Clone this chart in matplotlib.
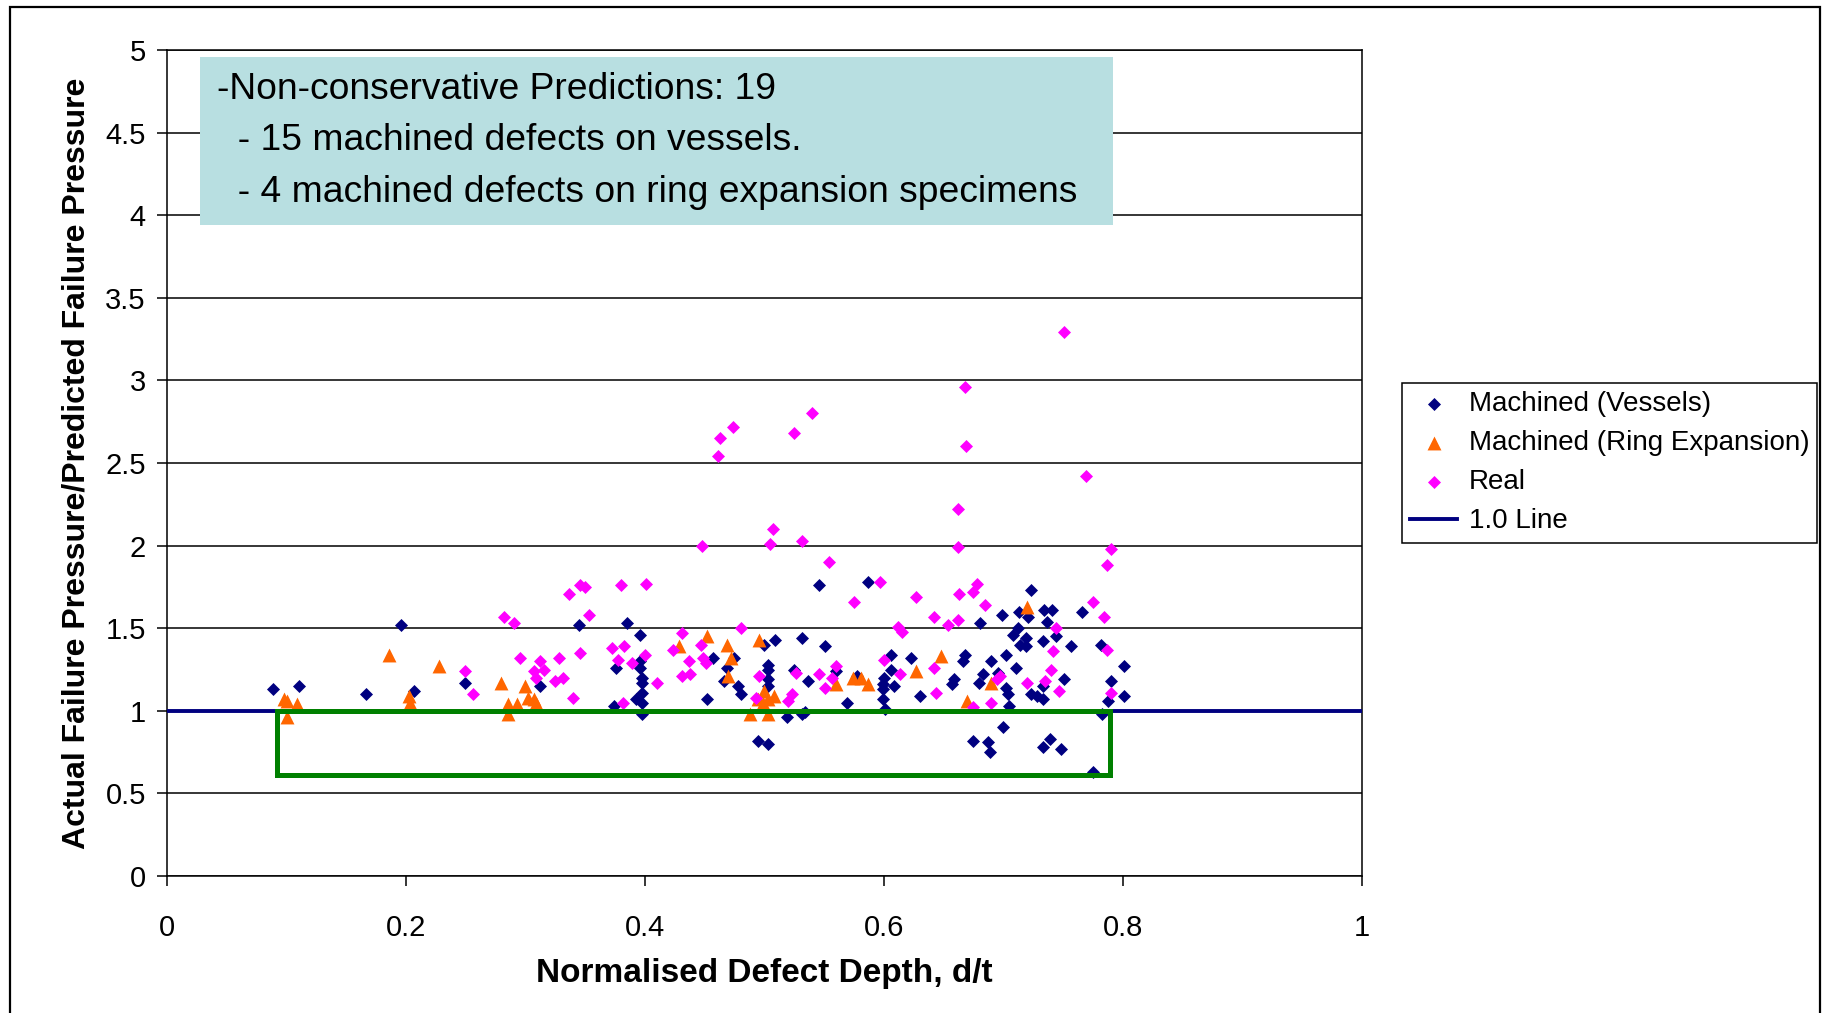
import matplotlib.pyplot as plt
from matplotlib.patches import Rectangle
from matplotlib.ticker import FormatStrFormatter

plt.rcParams['font.family'] = ['Liberation Sans', 'DejaVu Sans']

# Machined defects on vessels
vessels_x = [0.089, 0.111, 0.167, 0.196, 0.207, 0.250, 0.312, 0.345, 0.385, 0.396,
             0.376, 0.396, 0.396, 0.398, 0.398, 0.393, 0.398, 0.398, 0.398, 0.374,
             0.452, 0.546, 0.587, 0.500, 0.509, 0.532, 0.551, 0.457, 0.475, 0.469,
             0.466, 0.478, 0.481, 0.503, 0.503, 0.503, 0.503, 0.525, 0.537, 0.560,
             0.519, 0.532, 0.534, 0.495, 0.503, 0.569, 0.578, 0.599, 0.600, 0.599,
             0.599, 0.601, 0.606, 0.606, 0.609, 0.623, 0.630, 0.723, 0.699, 0.713,
             0.721, 0.734, 0.741, 0.766, 0.737, 0.681, 0.712, 0.708, 0.719, 0.714,
             0.719, 0.733, 0.744, 0.757, 0.782, 0.668, 0.666, 0.702, 0.690, 0.711,
             0.683, 0.680, 0.659, 0.657, 0.696, 0.702, 0.704, 0.705, 0.723, 0.728,
             0.733, 0.733, 0.751, 0.801, 0.790, 0.801, 0.788, 0.783, 0.700, 0.675,
             0.687, 0.689, 0.739, 0.733, 0.748, 0.775]
vessels_y = [1.13, 1.15, 1.10, 1.52, 1.12, 1.17, 1.15, 1.52, 1.53, 1.46,
             1.26, 1.30, 1.26, 1.20, 1.17, 1.07, 1.11, 1.05, 0.98, 1.03,
             1.07, 1.76, 1.78, 1.40, 1.43, 1.44, 1.39, 1.32, 1.32, 1.26,
             1.18, 1.15, 1.10, 1.28, 1.25, 1.19, 1.15, 1.25, 1.18, 1.24,
             0.96, 0.98, 0.99, 0.82, 0.80, 1.05, 1.21, 1.16, 1.20, 1.13,
             1.07, 1.01, 1.34, 1.25, 1.15, 1.32, 1.09, 1.73, 1.58, 1.60,
             1.57, 1.61, 1.61, 1.60, 1.54, 1.53, 1.50, 1.46, 1.44, 1.40,
             1.39, 1.42, 1.45, 1.39, 1.40, 1.34, 1.30, 1.34, 1.30, 1.26,
             1.22, 1.17, 1.19, 1.16, 1.23, 1.14, 1.10, 1.03, 1.10, 1.09,
             1.07, 1.15, 1.19, 1.27, 1.18, 1.09, 1.06, 0.98, 0.90, 0.82,
             0.81, 0.75, 0.83, 0.78, 0.77, 0.63]

# Machined defects on ring expansion specimens
ring_x = [0.098, 0.101, 0.101, 0.109, 0.186, 0.203, 0.204, 0.228, 0.280, 0.286,
          0.286, 0.293, 0.300, 0.302, 0.307, 0.309, 0.429, 0.452, 0.469, 0.472,
          0.470, 0.496, 0.500, 0.508, 0.495, 0.503, 0.499, 0.488, 0.503, 0.560,
          0.574, 0.581, 0.587, 0.627, 0.720, 0.648, 0.690, 0.670]
ring_y = [1.07, 1.06, 0.96, 1.04, 1.34, 1.09, 1.05, 1.27, 1.17, 1.04,
          0.98, 1.04, 1.15, 1.08, 1.07, 1.05, 1.39, 1.45, 1.40, 1.32,
          1.21, 1.43, 1.12, 1.09, 1.07, 1.07, 1.05, 0.98, 0.98, 1.16,
          1.20, 1.20, 1.16, 1.24, 1.63, 1.33, 1.17, 1.06]

# Real defects
real_x = [0.250, 0.256, 0.282, 0.291, 0.337, 0.346, 0.350, 0.380, 0.401, 0.353,
          0.296, 0.312, 0.316, 0.307, 0.309, 0.328, 0.325, 0.332, 0.346, 0.340,
          0.373, 0.383, 0.378, 0.389, 0.400, 0.410, 0.382, 0.431, 0.424, 0.447,
          0.437, 0.431, 0.438, 0.449, 0.451, 0.554, 0.597, 0.575, 0.627, 0.481,
          0.612, 0.615, 0.496, 0.527, 0.546, 0.560, 0.557, 0.551, 0.600, 0.614,
          0.493, 0.523, 0.520, 0.642, 0.787, 0.678, 0.675, 0.663, 0.685, 0.775,
          0.784, 0.642, 0.654, 0.662, 0.744, 0.787, 0.742, 0.740, 0.697, 0.695,
          0.720, 0.735, 0.747, 0.644, 0.790, 0.690, 0.675, 0.474, 0.463, 0.461,
          0.525, 0.540, 0.448, 0.507, 0.505, 0.532, 0.751, 0.668, 0.669, 0.769,
          0.662, 0.662, 0.790]
real_y = [1.24, 1.10, 1.57, 1.53, 1.71, 1.76, 1.75, 1.76, 1.77, 1.58,
          1.32, 1.30, 1.25, 1.24, 1.20, 1.32, 1.18, 1.20, 1.35, 1.08,
          1.38, 1.39, 1.31, 1.29, 1.34, 1.17, 1.05, 1.47, 1.37, 1.40,
          1.30, 1.21, 1.22, 1.32, 1.29, 1.90, 1.78, 1.66, 1.69, 1.50,
          1.51, 1.48, 1.21, 1.23, 1.22, 1.27, 1.20, 1.14, 1.31, 1.22,
          1.08, 1.10, 1.06, 1.26, 1.88, 1.77, 1.72, 1.71, 1.64, 1.66,
          1.57, 1.57, 1.52, 1.55, 1.50, 1.37, 1.36, 1.25, 1.21, 1.19,
          1.17, 1.18, 1.12, 1.11, 1.11, 1.05, 1.02, 2.72, 2.65, 2.54,
          2.68, 2.80, 2.00, 2.10, 2.01, 2.03, 3.29, 2.96, 2.60, 2.42,
          2.22, 1.99, 1.98]

one_line_x = [0, 1]
one_line_y = [1.0, 1.0]

# green box marking the non-conservative region (x0, x1, y0, y1)
box_x = [0.092, 0.789]
box_y = [0.61, 1.0]

note_lines = ['-Non-conservative Predictions: 19',
              '  - 15 machined defects on vessels.',
              '  - 4 machined defects on ring expansion specimens']

fig = plt.figure(figsize=(18.47, 10.13), dpi=100)
ax = fig.add_axes([0.09025, 0.13524, 0.6470, 0.8154])

ax.scatter(vessels_x, vessels_y, marker='D', s=44, color='#000080', linewidths=0,
           label='Machined (Vessels)', zorder=4)
ax.scatter(ring_x, ring_y, marker='^', s=100, color='#FF6600', linewidths=0,
           label='Machined (Ring Expansion)', zorder=4)
ax.scatter(real_x, real_y, marker='D', s=44, color='#FF00FF', linewidths=0,
           label='Real', zorder=4)
ax.plot(one_line_x, one_line_y, color='#000080', lw=2.8, label='1.0 Line', zorder=3)

ax.add_patch(Rectangle((box_x[0], box_y[0]), box_x[1] - box_x[0], box_y[1] - box_y[0],
                       fill=False, edgecolor='#008000', lw=3.6, zorder=5))

ax.set_xlim(0, 1)
ax.set_ylim(0, 5)
ax.set_xticks([0, 0.2, 0.4, 0.6, 0.8, 1])
ax.set_yticks([0, 0.5, 1, 1.5, 2, 2.5, 3, 3.5, 4, 4.5, 5])
ax.xaxis.set_major_formatter(FormatStrFormatter('%g'))
ax.yaxis.set_major_formatter(FormatStrFormatter('%g'))
ax.grid(axis='y', color='black', lw=1.1)
ax.set_axisbelow(True)
for sp in ax.spines.values():
    sp.set_linewidth(1.1)
ax.tick_params(direction='out', length=7, width=1.1, labelsize=21, pad=8)
ax.tick_params(axis='x', pad=20)

ax.set_xlabel('Normalised Defect Depth, d/t', fontsize=24, fontweight='bold', labelpad=12)
ax.set_ylabel('Actual Failure Pressure/Predicted Failure Pressure', fontsize=23,
              fontweight='bold', labelpad=10)

# note box
ax.add_patch(Rectangle((0.028, 3.94), 0.764, 1.02, facecolor='#B8DFE1',
                       edgecolor='none', zorder=6))
for i, line in enumerate(note_lines):
    ax.text(0.042, 4.76 - i * 0.31, line, fontsize=26.8, va='center', ha='left',
            zorder=7)

leg = ax.legend(loc='upper left', bbox_to_anchor=(0.759, 0.622),
                bbox_transform=fig.transFigure, fontsize=20, frameon=True,
                fancybox=False, edgecolor='black', framealpha=1,
                labelspacing=0.47, handlelength=1.7, handletextpad=0.4,
                borderpad=0.3, borderaxespad=0, markerscale=1.0)
leg.get_frame().set_linewidth(1.1)

# outer chart border
fig.patches.append(Rectangle((10 / 1847, -0.02), 1810 / 1847, 1.02 + (1013 - 7) / 1013 - 1,
                             transform=fig.transFigure, fill=False,
                             edgecolor='black', lw=1.6))

fig.savefig('out.png', dpi=100)
